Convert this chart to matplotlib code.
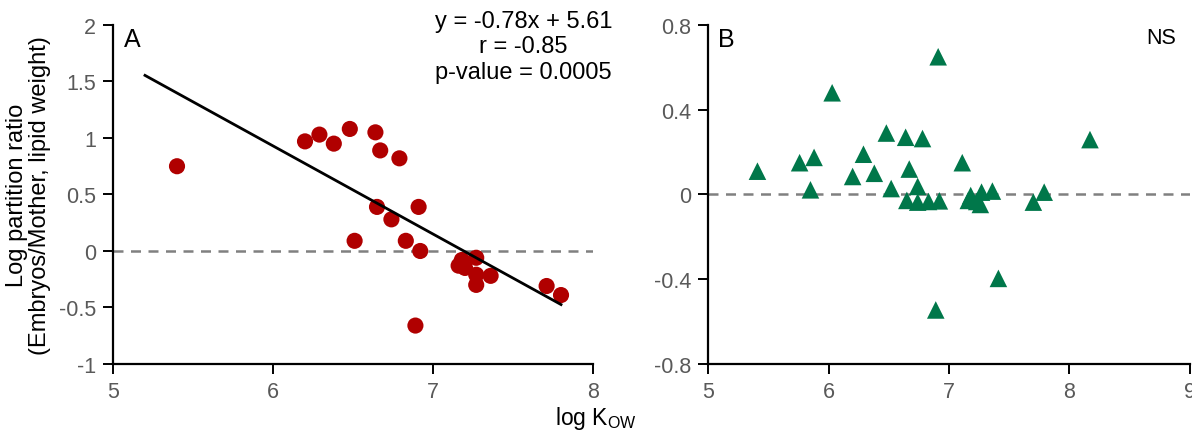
import numpy as np
import matplotlib
matplotlib.use("Agg")
import matplotlib.pyplot as plt

plt.rcParams['font.family'] = ['Liberation Sans', 'DejaVu Sans']

# Panel A: embryo/mother partition ratios (lipid weight)
kow_a = [5.40, 6.20, 6.29, 6.38, 6.48, 6.64, 6.67, 6.79, 6.65, 6.91, 6.74, 6.51,
         6.83, 6.92, 7.18, 7.27, 7.16, 7.20, 7.27, 7.36, 7.27, 7.71, 7.80, 6.89]
ratio_a = [0.75, 0.97, 1.03, 0.95, 1.08, 1.05, 0.89, 0.82, 0.39, 0.39, 0.28, 0.09,
           0.09, 0.00, -0.08, -0.06, -0.13, -0.15, -0.21, -0.22, -0.30, -0.31, -0.39, -0.66]

# Panel B
kow_b = [5.41, 5.76, 5.88, 5.85, 6.03, 6.20, 6.29, 6.38, 6.48, 6.52, 6.64, 6.67,
         6.74, 6.78, 6.65, 6.74, 6.83, 6.92, 6.91, 6.89, 7.11, 7.16, 7.18, 7.27,
         7.26, 7.23, 7.36, 7.41, 7.70, 7.79, 8.17]
ratio_b = [0.11, 0.15, 0.175, 0.022, 0.48, 0.085, 0.19, 0.10, 0.29, 0.028, 0.27, 0.12,
           0.038, 0.264, -0.028, -0.036, -0.033, -0.030, 0.65, -0.545, 0.15, -0.028,
           -0.005, 0.011, -0.047, -0.033, 0.016, -0.396, -0.036, 0.011, 0.259]

slope, intercept = -0.78, 5.61
fit_range = [5.2, 7.8]

red = '#B00000'
green = '#00774A'
tick_grey = '#595959'

fig = plt.figure(figsize=(11.92, 4.39), dpi=100)
ax1 = fig.add_axes([0.0948, 0.1686, 0.4027, 0.7722])
ax2 = fig.add_axes([0.594, 0.1686, 0.4043, 0.7722])

for ax in (ax1, ax2):
    for s in ('top', 'right'):
        ax.spines[s].set_visible(False)
    for s in ('left', 'bottom'):
        ax.spines[s].set_linewidth(1.6)
        ax.spines[s].set_color('black')
    ax.tick_params(direction='out', length=7, width=1.4, colors='black',
                   labelcolor=tick_grey, labelsize=15.5, pad=5)

# --- A
ax1.axhline(0, color='#808080', lw=1.8, ls=(0, (4, 3)), zorder=1)
ax1.scatter(kow_a, ratio_a, s=135, color=red, edgecolors='none', zorder=3)
xf = np.array(fit_range)
ax1.plot(xf, slope * xf + intercept, color='black', lw=2.0, zorder=4)
ax1.set_xlim(5, 8)
ax1.set_ylim(-1, 2)
ax1.set_xticks([5, 6, 7, 8])
ax1.set_yticks([-1, -0.5, 0, 0.5, 1, 1.5, 2])
ax1.set_yticklabels(['-1', '-0.5', '0', '0.5', '1', '1.5', '2'])
ax1.set_ylabel('Log partition ratio\n(Embryos/Mother, lipid weight)', fontsize=17,
               labelpad=6, linespacing=1.05)
ax1.text(0.022, 0.995, 'A', transform=ax1.transAxes, fontsize=18, va='top', ha='left')
ax1.text(0.855, 1.045, 'y = -0.78x + 5.61\nr = -0.85\np-value = 0.0005',
         transform=ax1.transAxes, fontsize=17, ha='center', va='top',
         linespacing=1.2, clip_on=False)

# --- B
ax2.axhline(0, color='#808080', lw=1.8, ls=(0, (4, 3)), zorder=1)
ax2.scatter(kow_b, ratio_b, s=160, marker='^', color=green, edgecolors='none', zorder=3)
ax2.set_xlim(5, 9)
ax2.set_ylim(-0.8, 0.8)
ax2.set_xticks([5, 6, 7, 8, 9])
ax2.set_yticks([-0.8, -0.4, 0, 0.4, 0.8])
ax2.set_yticklabels(['-0.8', '-0.4', '0', '0.4', '0.8'])
ax2.text(0.02, 0.995, 'B', transform=ax2.transAxes, fontsize=18, va='top', ha='left')
ax2.text(0.94, 0.995, 'NS', transform=ax2.transAxes, fontsize=15.5, va='top', ha='center')

fig.text(0.5, 0.015, r'log K$\mathregular{_{OW}}$', fontsize=16.5, ha='center', va='bottom')

fig.savefig('out.png', dpi=100)
